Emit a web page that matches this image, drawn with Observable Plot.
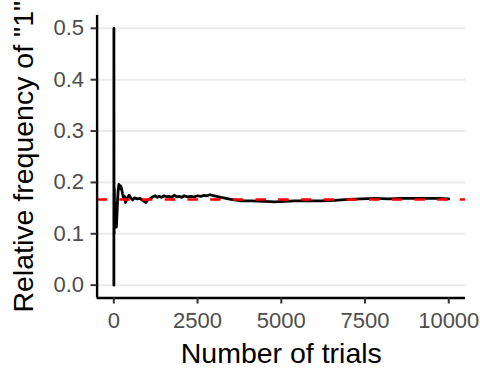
<!DOCTYPE html>
<html>
<head>
<meta charset="utf-8">
<script src="https://cdn.jsdelivr.net/npm/d3@7"></script>
<script src="https://cdn.jsdelivr.net/npm/@observablehq/plot@0.6"></script>
<style>
  html, body { margin: 0; padding: 0; background: white; }
</style>
</head>
<body>
<div id="chart"></div>
<script>
// Running relative frequency of rolling a "1"
const trials = [1, 2, 3, 4, 5, 6, 8, 10, 12, 16, 20, 25, 30, 40, 50, 60, 75, 90, 110, 130, 150, 170, 190, 210, 230, 260, 290, 320, 350, 380, 420, 460, 500, 560, 620, 700, 780, 860, 950, 1020, 1100, 1160, 1230, 1300, 1350, 1420, 1500, 1580, 1650, 1720, 1800, 1880, 1950, 2030, 2100, 2200, 2300, 2400, 2500, 2600, 2700, 2780, 2870, 3000, 3200, 3500, 3800, 4100, 4500, 4800, 5100, 5400, 5800, 6200, 6600, 7000, 7400, 7800, 8200, 8600, 9000, 9400, 9700, 10000];
const freq = [0, 0.5, 0.333, 0.25, 0.2, 0.167, 0.125, 0.1, 0.167, 0.188, 0.15, 0.16, 0.133, 0.125, 0.12, 0.117, 0.113, 0.133, 0.164, 0.185, 0.196, 0.192, 0.188, 0.193, 0.188, 0.178, 0.17, 0.173, 0.161, 0.166, 0.172, 0.175, 0.17, 0.166, 0.17, 0.168, 0.169, 0.165, 0.161, 0.166, 0.169, 0.172, 0.174, 0.171, 0.173, 0.171, 0.174, 0.172, 0.173, 0.171, 0.175, 0.172, 0.173, 0.171, 0.174, 0.172, 0.173, 0.172, 0.174, 0.173, 0.175, 0.174, 0.176, 0.174, 0.171, 0.167, 0.164, 0.164, 0.163, 0.162, 0.163, 0.164, 0.164, 0.164, 0.165, 0.167, 0.168, 0.169, 0.168, 0.169, 0.169, 0.169, 0.169, 0.168];
const expected = [1 / 6];
const xTicks = [0, 2500, 5000, 7500, 10000];
const yTicks = [0, 0.1, 0.2, 0.3, 0.4, 0.5];
const xTitle = "Number of trials";
const yTitle = "Relative frequency of \"1\"";

const data = trials.map((t, i) => ({trial: t, freq: freq[i]}));

const font = "'Liberation Sans', Arial, Helvetica, sans-serif";

const chart = Plot.plot({
  width: 480,
  height: 384,
  marginLeft: 96.6,
  marginRight: 15,
  marginTop: 15,
  marginBottom: 86.5,
  style: {fontFamily: font, fontSize: "22px", background: "white", color: "black"},
  x: {domain: [-500, 10500], label: null},
  y: {domain: [-0.025, 0.525], label: null},
  marks: [
    Plot.gridY(yTicks, {stroke: "#ebebeb", strokeOpacity: 1, strokeWidth: 2}),
    Plot.line(data, {x: "trial", y: "freq", stroke: "black", strokeWidth: 2.8}),
    Plot.ruleY(expected, {stroke: "#ff0000", strokeWidth: 2.6, strokeDasharray: "10.5,12.2"}),
    Plot.ruleX([-500], {stroke: "black", strokeWidth: 2.4}),
    Plot.ruleY([-0.025], {stroke: "black", strokeWidth: 2.4}),
    Plot.axisX(xTicks, {tickSize: 6, tickPadding: 8, stroke: "#333333", strokeWidth: 2, fill: "#4d4d4d", fontSize: 22, label: null, tickFormat: d3.format("d")}),
    Plot.axisY(yTicks, {tickSize: 6, tickPadding: 7, stroke: "#333333", strokeWidth: 2, fill: "#4d4d4d", fontSize: 22, label: null, tickFormat: d3.format(".1f")}),
    Plot.text([xTitle], {frameAnchor: "bottom", dy: 56, text: d => d, fontSize: 28.5, fill: "black", textAnchor: "middle", lineAnchor: "middle"}),
    Plot.text([yTitle], {frameAnchor: "left", dx: -73, rotate: -90, text: d => d, fontSize: 28.5, fill: "black", textAnchor: "middle", lineAnchor: "middle"})
  ]
});
document.getElementById("chart").appendChild(chart);
</script>
</body>
</html>
